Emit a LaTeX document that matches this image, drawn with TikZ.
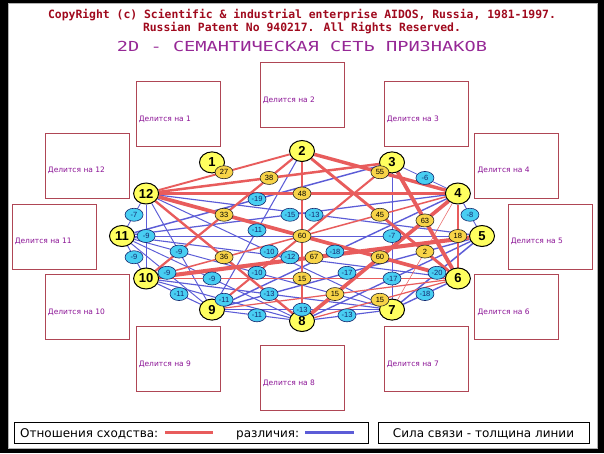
\documentclass[tikz,border=0pt]{standalone}
\usepackage{fontspec}
\usepackage{graphicx}
\setmainfont{DejaVu Sans}
\newfontfamily\monofont{DejaVu Sans Mono}
\newfontfamily\numfont{Liberation Sans}
\usetikzlibrary{shapes.geometric,calc}
\pgfdeclarelayer{back}
\pgfdeclarelayer{edges}
\pgfsetlayers{back,edges,main}
\definecolor{simred}{RGB}{232,92,92}
\definecolor{difblue}{RGB}{92,92,215}
\definecolor{nodeyel}{RGB}{255,255,95}
\definecolor{posyel}{RGB}{248,212,72}
\definecolor{negcyan}{RGB}{72,206,242}
\definecolor{navy}{RGB}{20,40,110}
\definecolor{boxred}{RGB}{175,70,85}
\definecolor{txtpurple}{RGB}{140,20,150}
\definecolor{copyred}{RGB}{160,10,30}
\definecolor{titlepurple}{RGB}{150,40,150}
\newcommand\poslist{12/2/27, 12/3/38, 12/4/48, 2/10/33, 2/4/55, 2/6/45, 3/6/63, 4/6/18, 4/7/2, 12/8/36, 5/10/67, 4/8/60, 6/10/15, 6/9/15, 6/8/15, 12/6/60}
\newcommand\neglist{11/3/-19, 11/4/-15, 12/5/-13, 2/9/-11, 12/7/-10, 11/6/-12, 4/9/-18, 3/7/-7, 3/4/-6, 4/5/-8, 5/7/-20, 6/7/-18, 5/9/-17, 5/8/-17, 7/8/-13, 7/9/-13, 10/7/-13, 8/9/-11, 10/8/-11, 11/7/-10, 12/9/-9, 11/8/-9, 11/9/-9, 9/10/-11, 10/12/-9, 10/11/-9, 11/12/-7}
% through the centre, their labels lie under the 60
\newcommand\hidlist{2/8/40, 3/9/30, 4/10/20}
\begin{document}
\begin{tikzpicture}[x=1pt,y=-1pt,
  feat/.style={draw=boxred,line width=0.9pt,minimum width=84pt,minimum height=65pt,inner sep=0pt},
  feattext/.style={text=txtpurple,font=\fontsize{7.5}{9}\selectfont,inner sep=0pt,anchor=west},
  num/.style={ellipse,draw,line width=1pt,fill=nodeyel,minimum width=25pt,minimum height=21pt,inner sep=0pt,font=\numfont\bfseries\fontsize{13}{13}\selectfont},
  poslab/.style={ellipse,draw=black!85,line width=0.6pt,fill=posyel,minimum width=18pt,minimum height=13pt,inner sep=0pt,font=\numfont\fontsize{7.5}{8}\selectfont},
  neglab/.style={ellipse,draw=navy,line width=0.6pt,fill=negcyan,text=navy,minimum width=18pt,minimum height=13pt,inner sep=0pt,font=\numfont\fontsize{7.5}{8}\selectfont},
  legtext/.style={font=\fontsize{12}{14}\selectfont,inner sep=0pt}]
  \useasboundingbox (0,0) rectangle (604,453);
  \begin{pgfonlayer}{back}
    \fill[black] (0,0) rectangle (604,453);
    \fill[white] (8,3) rectangle (597,448);
    \draw[gray!60] (8,3) rectangle (597,448);
  \end{pgfonlayer}
  \node[text=copyred,font=\monofont\bfseries\fontsize{11.4}{13}\selectfont] (cr1) at (302,15.5) {CopyRight (c) Scientific \& industrial enterprise AIDOS, Russia, 1981-1997.};
  \node[text=copyred,font=\monofont\bfseries\fontsize{11.4}{13}\selectfont] (cr2) at (302,28) {Russian Patent No 940217. All Rights Reserved.};
  \node[text=titlepurple,font=\monofont\fontsize{13.8}{15}\selectfont] (title) at (302,46) {\scalebox{1.35}[1]{2D - СЕМАНТИЧЕСКАЯ СЕТЬ ПРИЗНАКОВ}};
  \foreach \k in {1,...,12} {
    \node[feat] (b\k) at ({302+248*cos(150-30*\k)},{236.5-141.5*sin(150-30*\k)}) {};
    \node[feattext] (t\k) at ([xshift=3pt,yshift=-5pt]b\k.west) {Делится на \k};
    \node[num] (n\k) at ({302+180*cos(150-30*\k)},{236-85*sin(150-30*\k)}) {\k};
  }
  \begin{pgfonlayer}{edges}
    \foreach \a/\b/\w in \neglist {
      \pgfmathsetmacro\lw{0.5+0.05*abs(\w)}
      \draw[difblue,line width=\lw pt] (n\a) -- (n\b);
    }
    \foreach \a/\b/\w in \hidlist {
      \pgfmathsetmacro\lw{0.4+0.055*\w}
      \draw[simred,line width=\lw pt] (n\a) -- (n\b);
    }
    \draw[difblue,line width=0.9pt] (n11) -- (n5);
    \foreach \a/\b/\w in \poslist {
      \pgfmathsetmacro\lw{0.4+0.055*\w}
      \draw[simred,line width=\lw pt] (n\a) -- (n\b);
    }
  \end{pgfonlayer}
  \foreach \a/\b/\w in \neglist
    \node[neglab] (w\a-\b) at ($(n\a)!.5!(n\b)$) {\w};
  \foreach \a/\b/\w in \poslist
    \node[poslab] (w\a-\b) at ($(n\a)!.5!(n\b)$) {\w};
  \draw (14,422) rectangle (368,443);
  \draw (378,422) rectangle (589,443);
  \node[legtext,anchor=base west] (l1) at (20,437) {Отношения сходства:};
  \draw[simred,line width=3pt] (165,432.5) -- (213,432.5);
  \node[legtext,anchor=base west] (l2) at (236,437) {различия:};
  \draw[difblue,line width=3pt] (305,432.5) -- (354,432.5);
  \node[legtext,anchor=base] (l3) at (483.5,437) {Сила связи - толщина линии};
\end{tikzpicture}
\end{document}
